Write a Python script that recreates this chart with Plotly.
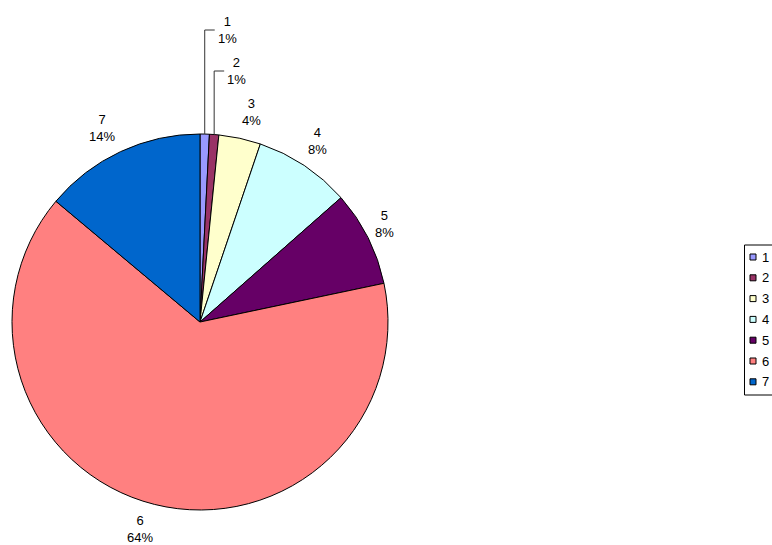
import math
import plotly.graph_objects as go

# Data
categories = ["1", "2", "3", "4", "5", "6", "7"]
values = [0.8, 0.8, 3.6, 8.3, 8.2, 64.4, 13.9]
colors = ["#9999FF", "#993366", "#FFFFCC", "#CCFFFF", "#660066", "#FF8080", "#0066CC"]

W, H = 772, 545
CX, CY, R = 200, 322, 188          # pie centre / radius in pixels
FONT = dict(family="Liberation Sans, Arial, sans-serif", size=13, color="#000000")


def px(x):
    return x / W


def py(y):
    return 1 - y / H


fig = go.Figure(
    go.Pie(
        labels=categories,
        values=values,
        sort=False,
        direction="clockwise",
        rotation=0,
        textinfo="none",
        hoverinfo="label+percent",
        showlegend=False,
        marker=dict(colors=colors, line=dict(color="#000000", width=1)),
        domain=dict(x=[px(CX - R), px(CX + R)], y=[py(CY + R), py(CY - R)]),
    )
)

total = sum(values)
annotations = []
shapes = []
cum = 0.0
# leader-line elbow heights for the two thin slices
elbows = {0: 30, 1: 71}
# small pixel nudges for the outside labels
nudges = {2: (6, 0), 3: (-2, -2), 4: (-8, -2), 5: (-8, -2), 6: (-7, 1)}
for i, (cat, v) in enumerate(zip(categories, values)):
    pct = v / total * 100
    mid = (cum + v / 2) / total * 2 * math.pi   # clockwise from 12 o'clock
    cum += v
    text = f"{cat}<br>{round(pct)}%"
    if i in elbows:
        x0 = CX + R * math.sin(mid)
        y0 = CY - R * math.cos(mid)
        ye = elbows[i]
        xe = x0 + 10
        shapes.append(dict(
            type="path", xref="paper", yref="paper",
            path=f"M {px(x0)},{py(y0)} L {px(x0)},{py(ye)} L {px(xe)},{py(ye)}",
            line=dict(color="#333333", width=1),
        ))
        annotations.append(dict(
            x=px(xe + 1), y=py(ye), xref="paper", yref="paper",
            text=text, showarrow=False, xanchor="left", yanchor="middle",
            font=FONT, align="center",
        ))
    else:
        rl = R + 27
        dx, dy = nudges.get(i, (0, 0))
        lx = CX + rl * math.sin(mid) + dx
        ly = CY - rl * math.cos(mid) + dy
        annotations.append(dict(
            x=px(lx), y=py(ly), xref="paper", yref="paper",
            text=text, showarrow=False, xanchor="center", yanchor="middle",
            font=FONT, align="center",
        ))

# Legend box (runs off the right edge of the page)
LX, LY0, LY1, STEP = 744.5, 245, 395, 20.8
shapes.append(dict(
    type="rect", xref="paper", yref="paper",
    x0=px(LX), x1=px(W + 10), y0=py(LY1), y1=py(LY0),
    line=dict(color="#000000", width=1), fillcolor="#FFFFFF", layer="below",
))
for i, (cat, col) in enumerate(zip(categories, colors)):
    yc = 257 + i * STEP
    shapes.append(dict(
        type="rect", xref="paper", yref="paper",
        x0=px(750), x1=px(756), y0=py(yc + 3), y1=py(yc - 3),
        line=dict(color="#000000", width=1), fillcolor=col,
    ))
    annotations.append(dict(
        x=px(760), y=py(yc), xref="paper", yref="paper",
        text=cat, showarrow=False, xanchor="left", yanchor="middle",
        font=FONT,
    ))

fig.update_layout(
    width=W,
    height=H,
    margin=dict(l=0, r=0, t=0, b=0, autoexpand=False),
    paper_bgcolor="#FFFFFF",
    plot_bgcolor="#FFFFFF",
    font=FONT,
    annotations=annotations,
    shapes=shapes,
    showlegend=False,
)

fig.write_html("out.html")
